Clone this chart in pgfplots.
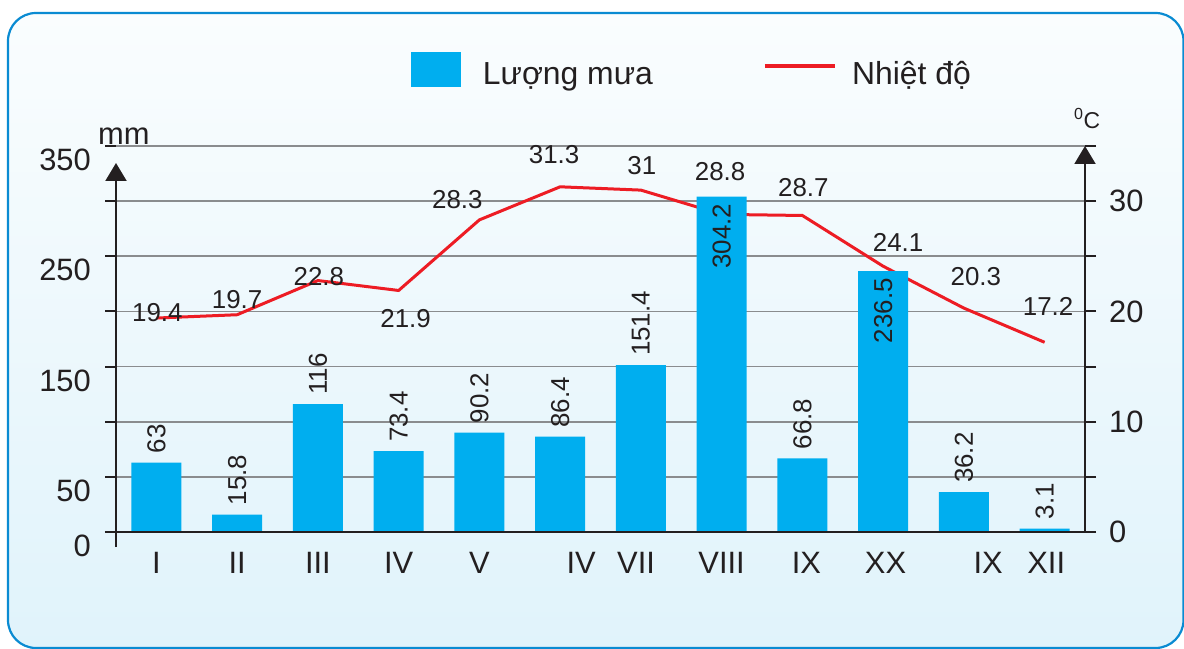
\documentclass[border=0pt]{standalone}
\usepackage{pgfplots}
\pgfplotsset{compat=1.18}
\usepackage{pgfplotstable}
\usepackage{fontspec}
\setmainfont{Liberation Sans}
\usetikzlibrary{arrows.meta}
\definecolor{barblue}{HTML}{00AEEF}
\definecolor{tred}{HTML}{ED1C24}
\definecolor{txt}{HTML}{231F20}
\definecolor{gridgray}{HTML}{8A8C8E}
\definecolor{frameblue}{HTML}{0A8BD2}
\definecolor{bgtop}{HTML}{FAFDFE}
\definecolor{bgbot}{HTML}{E0F3FB}
\pgfplotsset{/pgf/number format/assume math mode=true}
\newcommand{\fs}[1]{\fontsize{#1}{#1}\selectfont}

\pgfplotstableread{
x y dx dy
0 19.4 1 5
1 19.7 0 15
2 22.8 1 3.5
3 21.9 7 -28
4 28.3 -22 20
5 31.3 -6 32
6 31 1 25
7 28.8 -1.5 43
8 28.7 1 28
9 24.1 15 23.5
10 20.3 12 32
11 17.2 3.5 36
}\temps

\pgfplotstableread{
x y
0 63
1 15.8
2 116
3 73.4
4 90.2
5 86.4
6 151.4
8 66.8
10 36.2
11 3.1
}\rainout

\pgfplotstableread{
x y
7 304.2
9 236.5
}\rainin

\begin{document}
\begin{tikzpicture}
\useasboundingbox (0bp,0bp) rectangle (1184bp,649bp);
\shade[top color=bgtop, bottom color=bgbot, rounded corners=28bp] (8bp,1bp) rectangle (1183.5bp,636bp);
\draw[frameblue, line width=2.2bp, rounded corners=28bp] (8bp,1bp) rectangle (1183.5bp,636bp);

% ---------- temperature axis (grid + line) ----------
\begin{axis}[
  at={(116bp,117bp)}, anchor=south west,
  scale only axis, width=969bp, height=386bp,
  xmin=-0.5, xmax=11.5, ymin=0, ymax=35,
  axis line style={draw=none},
  xtick=\empty,
  ytick={0,5,...,35},
  yticklabels={0,,10,,20,,30,},
  ytick pos=right,
  tick align=outside,
  major tick length=11bp,
  y tick style={txt, line width=2bp},
  ymajorgrids,
  major grid style={gridgray, line width=1.8bp},
  yticklabel style={font=\fs{31}, text=txt, anchor=west, inner sep=0pt, xshift=13bp},
  clip=false,
]
\addplot[tred, line width=3bp, mark=none,
  nodes near coords,
  visualization depends on={\thisrow{dx} \as \dx},
  visualization depends on={\thisrow{dy} \as \dy},
  nodes near coords style={font=\fs{26}, text=txt, anchor=center, inner sep=0pt, xshift=\dx bp, yshift=\dy bp},
] table[x=x,y=y] {\temps};
\end{axis}

% ---------- rainfall axis (bars) ----------
\begin{axis}[
  at={(116bp,117bp)}, anchor=south west,
  scale only axis, width=969bp, height=386bp,
  xmin=-0.5, xmax=11.5, ymin=0, ymax=350,
  axis line style={draw=none},
  xtick={0,1,2,3,4,5.26,5.94,7,8.05,9.03,10.3,11.02},
  xticklabels={I,II,III,IV,V,IV,VII,VIII,IX,XX,IX,XII},
  x tick style={draw=none},
  xticklabel style={font=\fs{31}, text=txt, anchor=north, inner sep=0pt, yshift=-9bp},
  ytick={0,50,...,350},
  yticklabels={0,50,,150,,250,,350},
  ytick pos=left,
  tick align=outside,
  major tick length=11bp,
  y tick style={txt, line width=2bp},
  yticklabel style={font=\fs{31}, text=txt, anchor=east, inner sep=0pt, xshift=-14bp, yshift=-14bp},
  clip=false,
  legend columns=2,
  legend style={draw=none, fill=none, inner sep=0pt, outer sep=0pt,
    at={(0.3044,1.2435)}, anchor=north west,
    nodes={inner sep=0pt, font=\fs{32}, text=txt},
    cells={anchor=base west}},
]
\addplot[ybar, bar width=50bp, bar shift=0pt, fill=barblue, draw=none,
  legend image code/.code={\fill[barblue] (0bp,-3bp) rectangle (50bp,32bp); \path (72bp,0bp);},
  nodes near coords,
  nodes near coords style={font=\fs{26}, text=txt, inner sep=0pt, yshift=9bp, rotate=90, anchor=west},
] table[x=x,y=y] {\rainout};
\addlegendentry{\makebox[280bp][l]{Lượng mưa}}
\addplot[ybar, bar width=50bp, bar shift=0pt, fill=barblue, draw=none, forget plot,
  nodes near coords,
  nodes near coords style={font=\fs{26}, text=txt, inner sep=0pt, yshift=-7bp, rotate=90, anchor=east},
] table[x=x,y=y] {\rainin};
\addlegendimage{legend image code/.code={\draw[tred, line width=4bp] (0bp,18bp) -- (70bp,18bp); \path (87bp,0bp);}}
\addlegendentry{Nhiệt độ}

% axis lines
\draw[txt, line width=2bp] (rel axis cs:-0.01135,0) -- (rel axis cs:1.01135,0);
\draw[txt, line width=2bp, -{Triangle[width=21bp,length=18bp]}] (rel axis cs:0,-0.0389) -- (rel axis cs:0,0.956);
\draw[txt, line width=2bp, -{Triangle[width=21bp,length=18bp]}] (rel axis cs:1,0) -- (rel axis cs:1,1);
\node[anchor=base west, inner sep=0pt, font=\fs{31}, text=txt] at (rel axis cs:-0.0186,1.0026) {mm};
\node[anchor=base west, inner sep=0pt, font=\fs{23}, text=txt] at (rel axis cs:0.9886,1.0466) {\textsuperscript{0}C};
\end{axis}
\end{tikzpicture}
\end{document}
